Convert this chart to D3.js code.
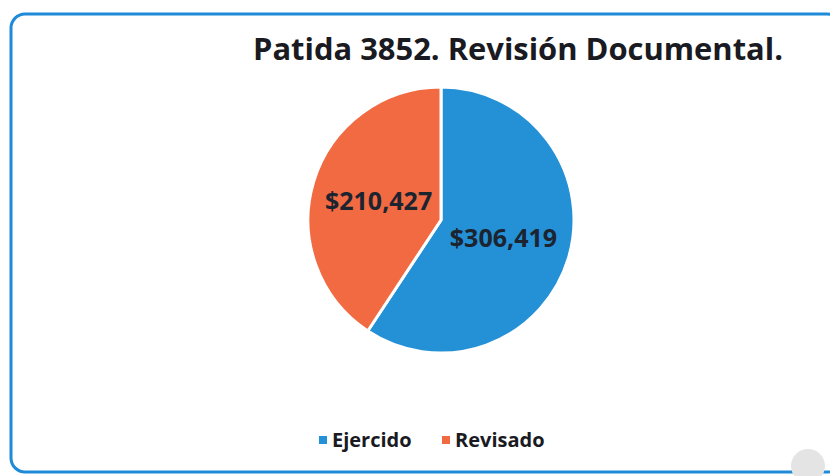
<!DOCTYPE html>
<html>
<head>
<meta charset="utf-8">
<script src="https://cdn.jsdelivr.net/npm/d3@7"></script>
<style>
body { margin: 0; background: #fff; }
</style>
</head>
<body>
<script>
var w = 830;
var h = 476;

var categories = ["Ejercido", "Revisado"];
var values = [306419, 210427];
var colors = ["#2490d6", "#f26a42"];
var title = "Patida 3852. Revisión Documental.";

var svg = d3.select("body").append("svg")
  .attr("width", w)
  .attr("height", h);

// marco azul redondeado
svg.append("rect")
  .attr("x", 11).attr("y", 14)
  .attr("width", 830).attr("height", 458)
  .attr("rx", 14)
  .attr("fill", "#fff")
  .attr("stroke", "#1f8ad8")
  .attr("stroke-width", 3);

svg.append("text")
  .attr("x", 253).attr("y", 60)
  .attr("font-family", "Open Sans, sans-serif")
  .attr("font-weight", "bold")
  .attr("font-size", 30)
  .attr("textLength", 530)
  .attr("lengthAdjust", "spacingAndGlyphs")
  .attr("fill", "#1a1a22")
  .text(title);

var cx = 441, cy = 220, r = 133;

var pie = d3.pie().sort(null);
var arc = d3.arc().innerRadius(0).outerRadius(r);
var labelArc = d3.arc().innerRadius(r * 0.49).outerRadius(r * 0.49);

var g = svg.append("g")
  .attr("transform", "translate(" + cx + "," + cy + ")");

var arcs = pie(values);

g.selectAll("path")
  .data(arcs)
  .enter().append("path")
  .attr("d", arc)
  .attr("fill", function(d, i) { return colors[i]; })
  .attr("stroke", "#fff")
  .attr("stroke-width", 3);

var fmt = d3.format("$,");
g.selectAll(".lbl")
  .data(arcs)
  .enter().append("text")
  .attr("class", "lbl")
  .attr("transform", function(d) {
    var c = labelArc.centroid(d);
    return "translate(" + c[0] + "," + c[1] + ")";
  })
  .attr("text-anchor", "middle")
  .attr("dy", "0.35em")
  .attr("font-family", "Open Sans, sans-serif")
  .attr("font-weight", "bold")
  .attr("font-size", 25)
  .attr("fill", "#1c2430")
  .text(function(d) { return fmt(d.value); });

// leyenda
var legendX = [319, 442];
var lg = svg.selectAll(".leg")
  .data(categories)
  .enter().append("g")
  .attr("transform", function(d, i) { return "translate(" + legendX[i] + ",440)"; });

lg.append("rect")
  .attr("x", 0).attr("y", -4)
  .attr("width", 8).attr("height", 8)
  .attr("fill", function(d, i) { return colors[i]; });

lg.append("text")
  .attr("x", 13).attr("dy", "0.35em")
  .attr("font-family", "Open Sans, sans-serif")
  .attr("font-weight", "bold")
  .attr("font-size", 20)
  .attr("fill", "#1a1a22")
  .text(function(d) { return d; });

// mancha gris del escaneo
svg.append("circle")
  .attr("cx", 808).attr("cy", 466).attr("r", 17)
  .attr("fill", "#e4e4e4");
</script>
</body>
</html>
